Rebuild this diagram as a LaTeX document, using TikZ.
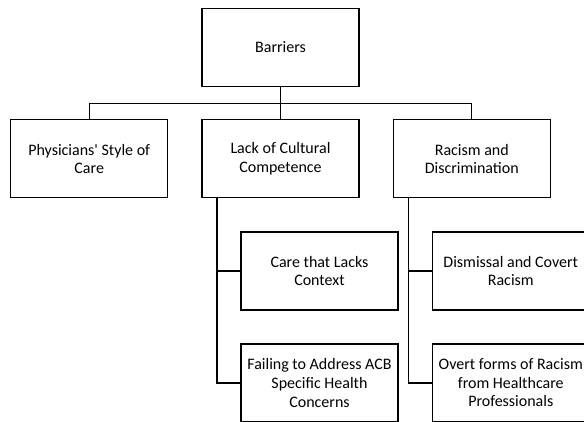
\documentclass[tikz,border=0pt]{standalone}
\usepackage{fontspec}
\setmainfont{Carlito}[Ligatures=TeXOff]
\usetikzlibrary{positioning}

\begin{document}
\begin{tikzpicture}
\tikzstyle{theme}=[shape=rectangle,draw,line width=1.3pt,minimum width=157pt,minimum height=78pt,align=center,inner sep=2pt,font=\fontsize{16}{18.6}\selectfont]

\clip (0,0) rectangle (584pt,-421pt);

\node[theme] (barriers) at (280.5pt,-47.5pt) {Barriers};
\node[theme, below=32pt of barriers] (lack) {Lack of Cultural\\Competence};
\node[theme, left=33pt of lack] (style) {Physicians' Style of\\Care};
\node[theme, right=33pt of lack] (racism) {Racism and\\Discrimination};
\node[theme, below=33pt of lack, xshift=39pt] (context) {Care that Lacks\\Context};
\node[theme, below=32.5pt of context] (acb) {Failing to Address ACB\\Specific Health\\Concerns};
\node[theme, below=33pt of racism, xshift=39pt] (dismissal) {Dismissal and Covert\\Racism};
\node[theme, below=32.5pt of dismissal] (overt) {Overt forms of Racism\\from Healthcare\\Professionals};

\coordinate (lacktrunk) at ([xshift=15.5pt]lack.south west);
\coordinate (racismtrunk) at ([xshift=15.5pt]racism.south west);

\path[draw,line width=1.3pt] (barriers) edge (lack);
\path[draw,line width=1.3pt] (style.north) -- ++(0,16pt) -| (racism.north);
\path[draw,line width=1.3pt] (lacktrunk) |- (context.west);
\path[draw,line width=1.3pt] (lacktrunk) |- (acb.west);
\path[draw,line width=1.3pt] (racismtrunk) |- (dismissal.west);
\path[draw,line width=1.3pt] (racismtrunk) |- (overt.west);
\end{tikzpicture}
\end{document}
